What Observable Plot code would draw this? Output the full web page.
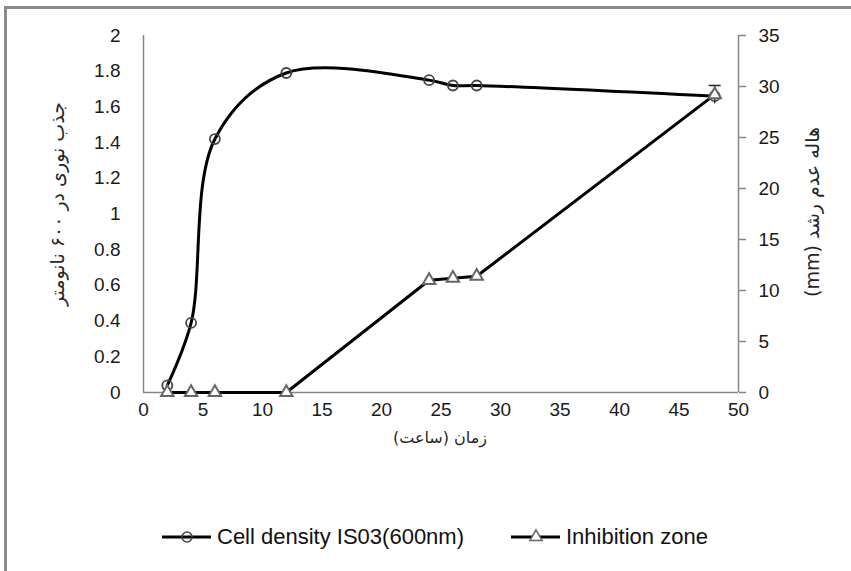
<!DOCTYPE html>
<html>
<head>
<meta charset="utf-8">
<script src="https://cdn.jsdelivr.net/npm/d3@7"></script>
<script src="https://cdn.jsdelivr.net/npm/@observablehq/plot@0.6"></script>
<style>
  html, body { margin: 0; padding: 0; background: #fff; }
  body { width: 851px; height: 571px; overflow: hidden; position: relative; }
  #frame { position: absolute; left: 4px; top: 6px; width: 900px; height: 620px; border: 3px solid #8a8a8a; box-sizing: border-box; }
  #chart { position: absolute; left: 0; top: 0; }
  #legend { position: absolute; top: 524px; left: 0; width: 851px; font-family: "Liberation Sans", Arial, sans-serif; font-size: 22px; color: #111; }
  .item { position: absolute; display: flex; align-items: center; white-space: nowrap; }
  .item svg { margin-right: 5px; }
  .title { position: absolute; white-space: nowrap; font-family: "DejaVu Sans", sans-serif; color: #262626; line-height: 1; direction: rtl; }
  .rot { transform: translate(-50%, -50%) rotate(-90deg); }
  .xt { transform: translate(-50%, -50%); }
</style>
</head>
<body>
<div id="frame"></div>
<div id="chart"></div>
<div id="legend"></div>
<script>
// ---- data ----
const hours = [2, 4, 6, 12, 24, 26, 28, 48];
const cellDensity = [0.04, 0.39, 1.42, 1.79, 1.75, 1.72, 1.72, 1.66];
const inhibitionZone = [0, 0, 0, 0, 11, 11.2, 11.4, 29.2];
const inhibitionErr = [0, 0, 0, 0, 0, 0, 0, 0.9];
const xTicks = [0, 5, 10, 15, 20, 25, 30, 35, 40, 45, 50];
const leftTicks = [0, 0.2, 0.4, 0.6, 0.8, 1, 1.2, 1.4, 1.6, 1.8, 2];
const rightTicks = [0, 5, 10, 15, 20, 25, 30, 35];
const seriesNames = ["Cell density IS03(600nm)", "Inhibition zone"];
const xTitle = "زمان (ساعت)";
const yLeftTitle = "جذب نوری در ۶۰۰ نانومتر";
const yRightTitle = "هاله عدم رشد (mm)";

// secondary axis mapped onto the primary scale
const leftMax = 2, rightMax = 35;
const toLeft = v => v * leftMax / rightMax;

const cellData = hours.map((h, i) => ({x: h, y: cellDensity[i]}));
const inhData = hours.map((h, i) => ({x: h, y: toLeft(inhibitionZone[i]), lo: toLeft(inhibitionZone[i] - inhibitionErr[i]), hi: toLeft(inhibitionZone[i] + inhibitionErr[i]), err: inhibitionErr[i]}));
const errData = inhData.filter(d => d.err > 0);

const capSymbol = {draw(ctx, size) { const w = 6; ctx.moveTo(-w, 0); ctx.lineTo(w, 0); }};
const axisColor = "#868686";

const chart = Plot.plot({
  width: 851,
  height: 470,
  marginLeft: 143,
  marginRight: 113,
  marginTop: 35,
  marginBottom: 78,
  style: {fontFamily: "Liberation Sans, Arial, sans-serif", fontSize: "19px", color: "#1a1a1a", background: "transparent"},
  x: {domain: [0, 50]},
  y: {domain: [0, 2]},
  marks: [
    Plot.ruleY([0], {stroke: axisColor, strokeWidth: 1.5}),
    Plot.ruleX([0], {stroke: axisColor, strokeWidth: 1.5}),
    Plot.ruleX([50], {stroke: axisColor, strokeWidth: 1.5}),
    Plot.axisY(leftTicks, {anchor: "left", tickSize: 0, tickPadding: 23, label: null, tickFormat: d => String(+d.toFixed(1))}),
    Plot.axisY(rightTicks.map(toLeft), {anchor: "right", tickSize: 7, tickPadding: 13, stroke: axisColor, strokeWidth: 1.5, label: null, tickFormat: d => String(Math.round(d * rightMax / leftMax))}),
    Plot.axisX(xTicks, {tickSize: 0, tickPadding: 10, label: null}),
    // lines
    Plot.line(inhData, {x: "x", y: "y", stroke: "#000", strokeWidth: 3}),
    Plot.line(cellData, {x: "x", y: "y", curve: "catmull-rom", stroke: "#000", strokeWidth: 3}),
    // error bar
    Plot.ruleX(errData, {x: "x", y1: "lo", y2: "hi", stroke: "#222", strokeWidth: 1.5}),
    Plot.dot(errData, {x: "x", y: "hi", symbol: capSymbol, stroke: "#222", strokeWidth: 1.5}),
    // markers
    Plot.dot(cellData, {x: "x", y: "y", r: 5, fill: "none", stroke: "#444", strokeWidth: 1.8}),
    Plot.dot(inhData, {x: "x", y: "y", symbol: "triangle", r: 4.6, fill: "white", stroke: "#666", strokeWidth: 2})
  ]
});
document.getElementById("chart").appendChild(chart);

// ---- axis titles ----
const body = d3.select("body");
body.append("div").attr("class", "title rot").style("left", "57px").style("top", "204px").style("font-size", "19px").text(yLeftTitle);
body.append("div").attr("class", "title rot").style("left", "812px").style("top", "212px").style("font-size", "19px").text(yRightTitle);
body.append("div").attr("class", "title xt").style("left", "440px").style("top", "438px").style("font-size", "16px").text(xTitle);

// ---- legend ----
const legend = d3.select("#legend");
const items = [
  {name: seriesNames[0], left: 162, marker: "circle"},
  {name: seriesNames[1], left: 511, marker: "triangle"}
];
items.forEach(it => {
  const div = legend.append("div").attr("class", "item").style("left", it.left + "px");
  const s = div.append("svg").attr("width", 50).attr("height", 20);
  s.append("line").attr("x1", 0).attr("x2", 49).attr("y1", 10).attr("y2", 10).attr("stroke", "#000").attr("stroke-width", 3);
  if (it.marker === "circle") {
    s.append("circle").attr("cx", 25).attr("cy", 10).attr("r", 5).attr("fill", "none").attr("stroke", "#444").attr("stroke-width", 1.5);
  } else {
    s.append("path").attr("transform", "translate(25,10)").attr("d", d3.symbol(d3.symbolTriangle, 66)()).attr("fill", "white").attr("stroke", "#666").attr("stroke-width", 1.5);
  }
  div.append("span").text(it.name);
});
</script>
</body>
</html>
